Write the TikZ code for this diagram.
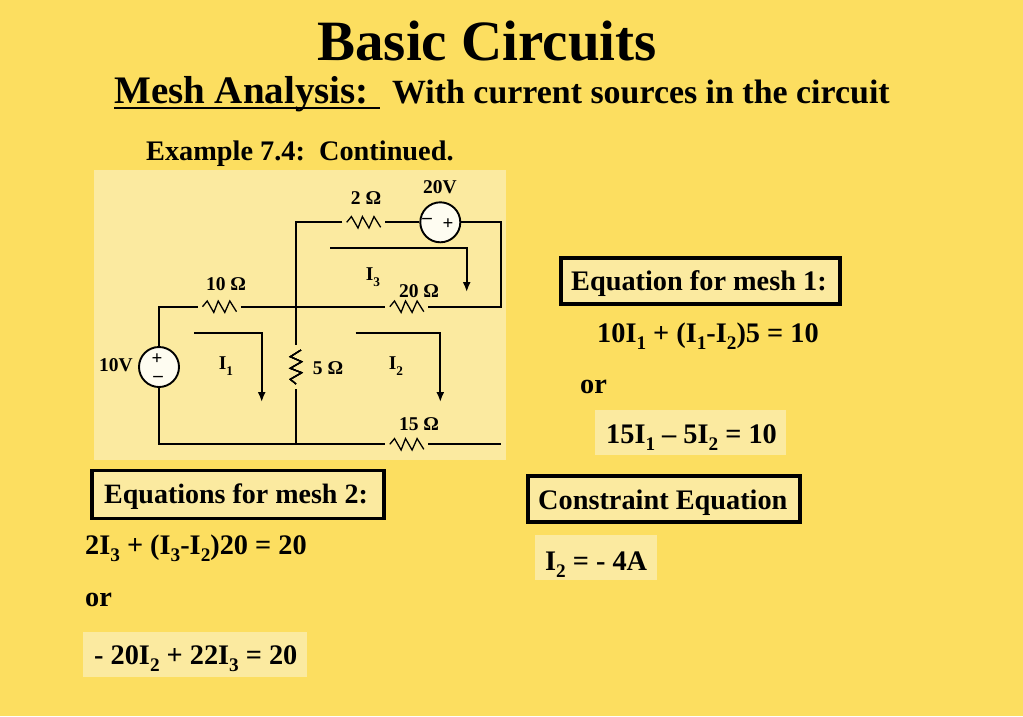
\documentclass[tikz,border=0pt]{standalone}
\usepackage{fontspec}
\usetikzlibrary{arrows.meta}
\setmainfont{Liberation Serif}
\definecolor{slidebg}{RGB}{252,222,96}
\definecolor{panelbg}{RGB}{251,234,160}
\newcommand{\low}[1]{\raisebox{-0.28em}{\fontsize{0.68em}{0.7em}\selectfont #1}}
\newcommand{\zigH}[1]{\draw[zig,shift={(#1.center)}] (-17,0) -- (-12.3,-5.7) -- (-5.7,5.7) -- (-1.3,-5.7) -- (5.3,5.7) -- (10.3,-5.7) -- (17,5);}
\newcommand{\zigV}[1]{\draw[zig,shift={(#1.center)},rotate=90] (-17,0) -- (-12.3,-5.7) -- (-5.7,5.7) -- (-1.3,-5.7) -- (5.3,5.7) -- (10.3,-5.7) -- (17,5);}
\tikzset{
	wire/.style={line width=1.9pt},
	zig/.style={line width=1.3pt},
	loopcur/.style={line width=1.8pt,-{Latex[length=10pt,width=8pt]}},
	reshoriz/.style={minimum width=42.5pt,minimum height=14pt,inner sep=0pt},
	resvert/.style={minimum width=14pt,minimum height=44pt,inner sep=0pt},
	source/.style={circle,draw,line width=1.9pt,fill=white!85!panelbg,minimum size=40pt,inner sep=0pt},
	lab/.style={font=\fontsize{19.5}{21}\selectfont\bfseries,inner sep=0pt},
	sign/.style={font=\fontsize{19}{19}\selectfont\bfseries,inner sep=0pt},
	eqn/.style={font=\fontsize{28.3}{30}\selectfont\bfseries,inner sep=0pt,anchor=base west},
	framed/.style={draw,line width=3.3pt,fill=panelbg,inner sep=0pt},
	shaded/.style={fill=panelbg,inner sep=0pt}
}
\begin{document}
\begin{tikzpicture}[x=1pt,y=-1pt]
	\useasboundingbox (0,0) rectangle (1023,716);
	\fill[slidebg] (0,0) rectangle (1023,716);
	\node[inner sep=0pt,anchor=base,font=\fontsize{57}{60}\selectfont\bfseries] (title) at (487,60) {Basic Circuits};
	\node[inner sep=0pt,anchor=base west,font=\fontsize{39}{42}\selectfont\bfseries] (mesh) at (114,103) {Mesh Analysis:};
	\node[inner sep=0pt,anchor=base west,font=\fontsize{33.9}{36}\selectfont\bfseries] (with) at (392,103) {With current sources in the circuit};
	\draw[line width=2.6pt] ([yshift=-5pt]mesh.base west) -- ([xshift=11pt,yshift=-5pt]mesh.base east);
	\node[eqn] (example) at (146,160) {Example 7.4:\ \ Continued.};
	% circuit panel
	\fill[panelbg] (94,170) rectangle (506,460);
	\node[source] (vten) at (159,367) {};
	\node[source] (vtwenty) at (440.3,222.3) {};
	\node[reshoriz] (rten) at (219.5,306.7) {};
	\node[reshoriz] (rtwenty) at (406.8,306.7) {};
	\node[reshoriz] (rfifteen) at (406.8,444.3) {};
	\node[reshoriz] (rtwo) at (363.7,222.3) {};
	\node[resvert] (rfive) at (296,367) {};
	\foreach \r in {rten,rtwenty,rfifteen,rtwo} % horizontal ones
	\zigH{\r}
	\zigV{rfive}
	\coordinate (tl) at (159,306.7);
	\coordinate (bl) at (159,444.3);
	\coordinate (midb) at (296,444.3);
	\coordinate (topm) at (296,222.3);
	\coordinate (tr) at (500.7,222.3);
	\coordinate (mr) at (500.7,306.7);
	\coordinate (br) at (500.7,444.3);
	\draw[wire] (vten.north) -- (tl) -- (rten.west);
	\draw[wire] (rten.east) -- (rtwenty.west);
	\draw[wire] (rtwenty.east) -- (mr) -- (tr) -- (vtwenty.east);
	\draw[wire] (vtwenty.west) -- (rtwo.east);
	\draw[wire] (rtwo.west) -- (topm) -- (rfive.north);
	\draw[wire] (rfive.south) -- (midb);
	\draw[wire] ([yshift=2pt]vten.south) -- (bl) -- (rfifteen.west);
	\draw[wire] (rfifteen.east) -- (br);
	% mesh currents
	\coordinate (ione) at (194,332.7);
	\coordinate (ionec) at (261.7,332.7);
	\coordinate (ionee) at (261.7,402);
	\coordinate (itwo) at (355.7,332.7);
	\coordinate (itwoc) at (440.3,332.7);
	\coordinate (itwoe) at (440.3,402);
	\coordinate (ithree) at (330,247.7);
	\coordinate (ithreec) at (466.7,247.7);
	\coordinate (ithreee) at (466.7,292);
	\draw[loopcur] (ione) -- (ionec) -- (ionee);
	\draw[loopcur] (itwo) -- (itwoc) -- (itwoe);
	\draw[loopcur] (ithree) -- (ithreec) -- (ithreee);
	% circuit labels
	\node[lab] (ltwo) at (366,198) {2 Ω};
	\node[lab] (lvtw) at (440,187) {20V};
	\node[lab] (lten) at (226,284) {10 Ω};
	\node[lab] (ltw) at (419,291) {20 Ω};
	\node[lab] (lfive) at (328,368) {5 Ω};
	\node[lab] (lfif) at (419,424) {15 Ω};
	\node[lab] (lvten) at (116,365) {10V};
	\node[lab] (lione) at (226,366) {I\low{1}};
	\node[lab] (litwo) at (396,366) {I\low{2}};
	\node[lab] (lithree) at (373,277) {I\low{3}};
	\node[sign] (pten) at (157,359) {+};
	\node[sign] (mten) at (158,379) {–};
	\node[sign] (mtw) at (427,221) {–};
	\node[sign] (ptw) at (448,224) {+};
	% right column
	\node[framed,minimum width=279pt,minimum height=46pt] (meshone) at (700.5,281) {};
	\node[eqn] (meshonet) at (571,290) {Equation for mesh 1:};
	\node[eqn] (eqone) at (597,342) {10I\low{1} + (I\low{1}-I\low{2})5 = 10};
	\node[eqn] (orone) at (580,393) {or};
	\node[shaded,minimum width=191pt,minimum height=45pt] (boxtwo) at (690.5,432.5) {};
	\node[eqn] (eqtwo) at (606,443) {15I\low{1} – 5I\low{2} = 10};
	\node[framed,minimum width=272pt,minimum height=46pt] (constr) at (664,499) {};
	\node[eqn] (constrt) at (538,509) {Constraint Equation};
	\node[shaded,minimum width=122pt,minimum height=45pt] (boxthree) at (596,557.5) {};
	\node[eqn] (eqthree) at (545,570) {I\low{2} = - 4A};
	% left column
	\node[framed,minimum width=292pt,minimum height=48pt] (meshtwo) at (238,494.5) {};
	\node[eqn,font=\fontsize{28}{30}\selectfont\bfseries] (meshtwot) at (104,503) {Equations for mesh 2:};
	\node[eqn] (eqfour) at (85,554) {2I\low{3} + (I\low{3}-I\low{2})20 = 20};
	\node[eqn] (ortwo) at (85,606) {or};
	\node[shaded,minimum width=224pt,minimum height=45pt] (boxfive) at (195,654.5) {};
	\node[eqn] (eqfive) at (94,664) {- 20I\low{2} + 22I\low{3} = 20};
\end{tikzpicture}
\end{document}
